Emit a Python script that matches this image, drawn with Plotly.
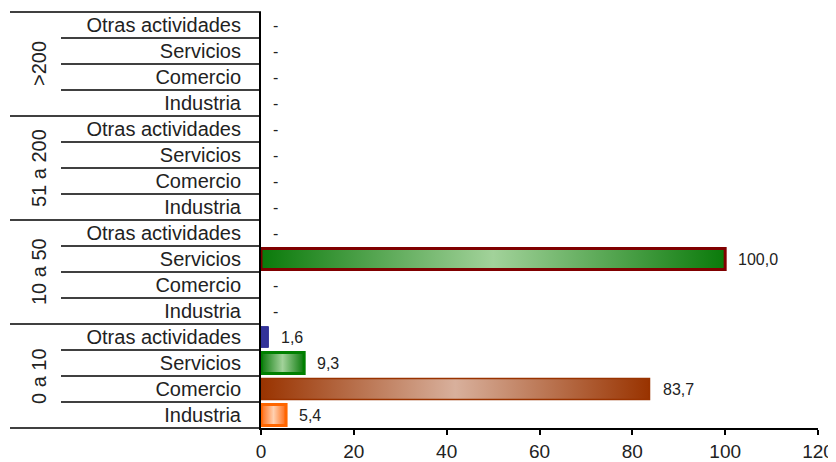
import plotly.graph_objects as go

# ---- data ----
groups = ["0 a 10", "10 a 50", "51 a 200", ">200"]
sectors = ["Industria", "Comercio", "Servicios", "Otras actividades"]
vals_0_10 = [5.4, 83.7, 9.3, 1.6]
vals_10_50 = [None, None, 100.0, None]
vals_51_200 = [None, None, None, None]
vals_200 = [None, None, None, None]
group_values = [vals_0_10, vals_10_50, vals_51_200, vals_200]
x_ticks = [0, 20, 40, 60, 80, 100, 120]

# ---- styles ----
FONT = "Liberation Sans, Arial, sans-serif"
sector_style = {
    "Industria": dict(dark="#FF6A10", light="#FFD0B0", border="#FF6600", bw=3),
    "Comercio": dict(dark="#993300", light="#D8B09C", border="#993300", bw=1.5),
    "Servicios": dict(dark="#0A7A0A", light="#A2D29A", border="#008000", bw=3),
    "Otras actividades": dict(dark="#333399", light="#333399", border="#333399", bw=1),
}
override_border = {("10 a 50", "Servicios"): ("#800000", 3)}
half_h = 0.40

fig = go.Figure()
ticktext, tickvals = [], []
annotations = []
row = 0
for g, vals in zip(groups, group_values):
    for s, v in zip(sectors, vals):
        tickvals.append(row)
        ticktext.append(s)
        st = sector_style[s]
        if v is not None and v > 0:
            border, bw = override_border.get((g, s), (st["border"], st["bw"]))
            fig.add_trace(go.Scatter(
                x=[0, v, v, 0, 0],
                y=[row - half_h, row - half_h, row + half_h, row + half_h, row - half_h],
                mode="lines", fill="toself",
                fillgradient=dict(type="horizontal",
                                  colorscale=[[0, st["dark"]], [0.5, st["light"]], [1, st["dark"]]]),
                line=dict(color=border, width=bw),
                hoverinfo="skip", showlegend=False,
            ))
            label = f"{v:.1f}".replace(".", ",")
            annotations.append(dict(x=v, y=row, xref="x", yref="y", text=label,
                                    showarrow=False, xanchor="left", yanchor="middle", xshift=11,
                                    font=dict(family=FONT, size=16, color="#222")))
        else:
            annotations.append(dict(x=0, y=row, xref="x", yref="y", text="-",
                                    showarrow=False, xanchor="left", yanchor="middle", xshift=10,
                                    font=dict(family=FONT, size=16, color="#222")))
        row += 1

n_rows = row
# page body has an 8px margin, so the figure is sized/positioned to compensate
OFF = 8
W, H = 836 - OFF, 462 - OFF
L, T = 261 - OFF, 12 - OFF
R = W - (818 - OFF)
B = H - (428 - OFF)
pw = W - L - R
x_group = (10 - 261) / pw
x_sector = (61 - 261) / pw
x_glabel = (39 - 261) / pw

shapes = []
for k in range(n_rows + 1):
    yp = k / n_rows
    x0 = x_group if k % 4 == 0 else x_sector
    shapes.append(dict(type="line", xref="paper", yref="paper", x0=x0, x1=0,
                       y0=yp, y1=yp, line=dict(color="#000", width=1.5)))

for gi, g in enumerate(groups):
    annotations.append(dict(x=x_glabel, y=(gi * 4 + 2) / n_rows, xref="paper", yref="paper",
                            text=g, textangle=-90, showarrow=False,
                            xanchor="center", yanchor="middle",
                            font=dict(family=FONT, size=20, color="#222")))

fig.update_layout(
    width=W, height=H,
    margin=dict(l=L, r=R, t=T, b=B),
    paper_bgcolor="white", plot_bgcolor="white",
    shapes=shapes, annotations=annotations,
    xaxis=dict(range=[0, 120], tickvals=x_ticks, showgrid=False, zeroline=False,
               automargin=False,
               showline=True, linecolor="#000", linewidth=1.5,
               ticks="outside", ticklen=5, tickcolor="#000", tickwidth=1.5,
               tickfont=dict(family=FONT, size=19, color="#222")),
    yaxis=dict(range=[-0.5, n_rows - 0.5], tickvals=tickvals, ticktext=ticktext,
               automargin=False,
               showgrid=False, zeroline=False, showline=True, linecolor="#000", linewidth=2,
               ticks="outside", ticklen=14, tickcolor="rgba(0,0,0,0)",
               tickfont=dict(family=FONT, size=20, color="#222")),
)

fig.write_html("out.html")
